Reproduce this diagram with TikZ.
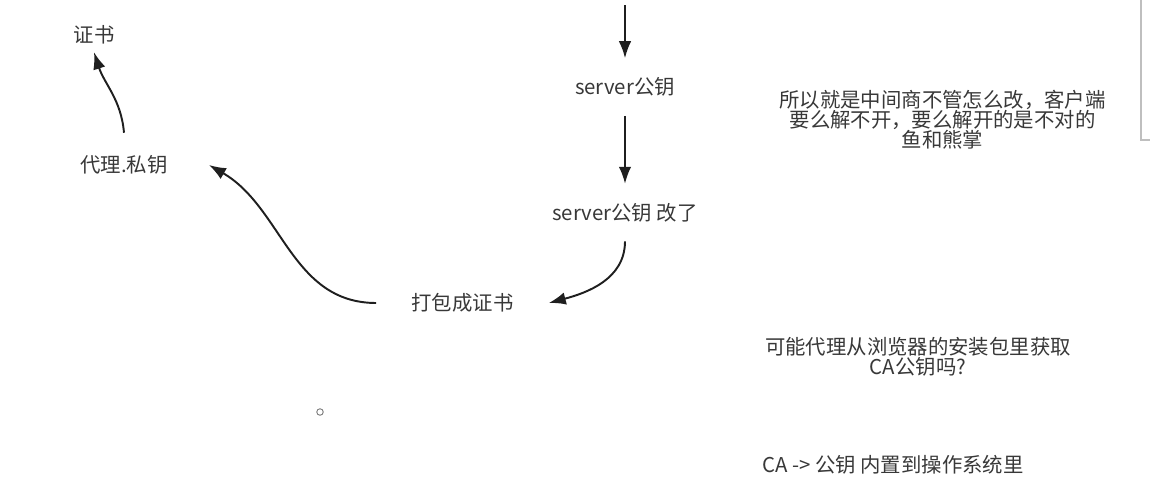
\documentclass[tikz,border=0pt]{standalone}
\usepackage{fontspec}
\setmainfont{Noto Sans CJK SC}
\usetikzlibrary{arrows.meta,positioning,calc}

\begin{document}
\begin{tikzpicture}

\tikzset{every node/.style = {font=\fontsize{11.6pt}{11.4pt}\selectfont, text=black!78}}
\tikzset{every edge/.append style = {>={Latex[length=3.4mm,width=2.5mm]}, draw=black!88, line width=1.1pt}}
\tikzstyle{txt}  = [inner xsep=0.75cm, inner ysep=0.38cm]
\tikzstyle{note} = [inner sep=0pt, align=center]

\useasboundingbox (0,0) rectangle (23,-9.64);

\coordinate (top) at (12.5,-0.1);
\node[txt]                     (srv_pk)  at (12.5,-1.74)            {server公钥};
\node[txt]                     (srv_mod) [below=1.36cm of srv_pk]   {server公钥 改了};
\node[txt, inner xsep=0.7cm]   (pack)    at (9.25,-6.06)            {打包成证书};
\node[txt, inner xsep=0.82cm, inner ysep=0.45cm] (agent) at (2.48,-3.30) {代理.私钥};
\node[txt, inner ysep=0.15cm]  (cert)    at (1.88,-0.70)            {证书};

\node[note] (note_mitm) at (18.85,-2.40) {所以就是中间商不管怎么改，客户端\\要么解不开，要么解开的是不对的\\鱼和熊掌};
\node[note] (note_ca)   at (18.36,-7.14) {可能代理从浏览器的安装包里获取\\CA公钥吗?};
\node[note, anchor=west] (note_os) at (15.24,-9.30) {CA -> 公钥 内置到操作系统里};

\draw (top)           edge[->]                  (srv_pk);
\draw (srv_pk)        edge[->]                  (srv_mod);
\draw (srv_mod.south) edge[->, out=-90, in=15]  (pack.east);
\draw (pack.west)     edge[->, out=180, in=-30] (agent.east);
\draw (agent.north)   edge[->, out=95, in=-72]  (cert.south);

\draw[black!55, line width=0.5pt] (6.4,-8.24) circle (0.065);
\draw[black!25, line width=0.6pt] (23.2,-2.8) -- (22.82,-2.8) -- (22.82,0.2);

\end{tikzpicture}
\end{document}
